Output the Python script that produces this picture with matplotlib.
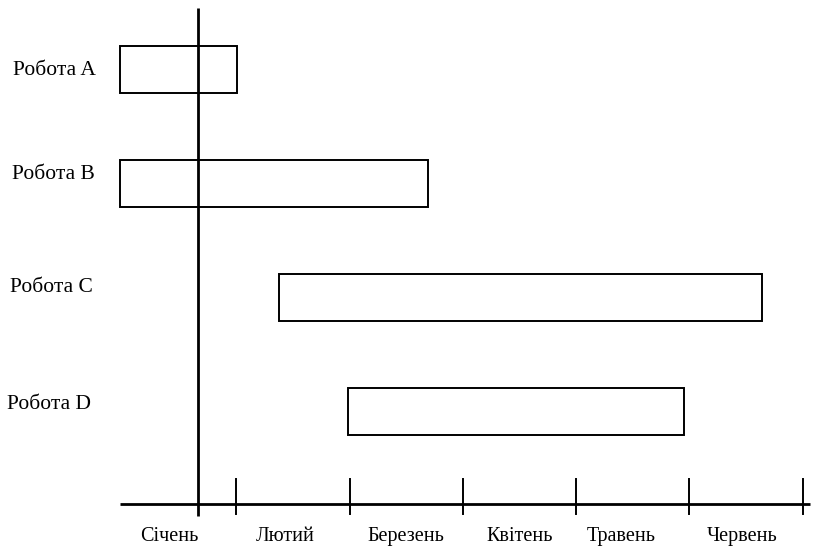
import matplotlib
matplotlib.use("Agg")
import matplotlib.pyplot as plt
from matplotlib.patches import Rectangle

# Data
tasks = ["Робота A", "Робота B", "Робота C", "Робота D"]
starts = [-0.03, -0.03, 1.38, 1.99]      # in months from start of Січень
ends = [1.01, 2.69, 5.64, 4.95]
months = ["Січень", "Лютий", "Березень", "Квітень", "Травень", "Червень"]

plt.rcParams['font.family'] = ['Liberation Serif', 'DejaVu Serif']

fig = plt.figure(figsize=(8.14, 5.49), dpi=100)
ax = fig.add_axes([0, 0, 1, 1])
ax.set_xlim(-1.0856, 6.0989)
ax.set_ylim(4.206, -0.61)
ax.axis('off')

bar_h = 0.42
for i, (s, e) in enumerate(zip(starts, ends)):
    ax.add_patch(Rectangle((s, i - bar_h / 2), e - s, bar_h, facecolor='white',
                           edgecolor='black', linewidth=1.4, zorder=2))

# task labels
label_dx = [-0.97, -0.98, -1.0, -1.02]
label_dy = [0.01, -0.08, -0.09, -0.06]
for i, t in enumerate(tasks):
    ax.text(label_dx[i], i + label_dy[i], t, ha='left', va='center', fontsize=15.5, zorder=3)

# axes lines
x_axis_y = 3.81
ax.plot([-0.03, 6.06], [x_axis_y, x_axis_y], color='black', lw=2, zorder=4,
        solid_capstyle='butt')
ax.plot([0.66, 0.66], [-0.54, 3.92], color='black', lw=2, zorder=4,
        solid_capstyle='butt')

# month ticks at boundaries
for m in range(1, len(months) + 1):
    ax.plot([m, m], [x_axis_y - 0.22, x_axis_y + 0.09], color='black', lw=1.4, zorder=4)

# month labels
label_x = [0.41, 1.43, 2.5, 3.5, 4.4, 5.46]
for lx, name in zip(label_x, months):
    ax.text(lx, 4.1, name, ha='center', va='center', fontsize=14.5)

fig.savefig("out.png", dpi=100, facecolor='white')
